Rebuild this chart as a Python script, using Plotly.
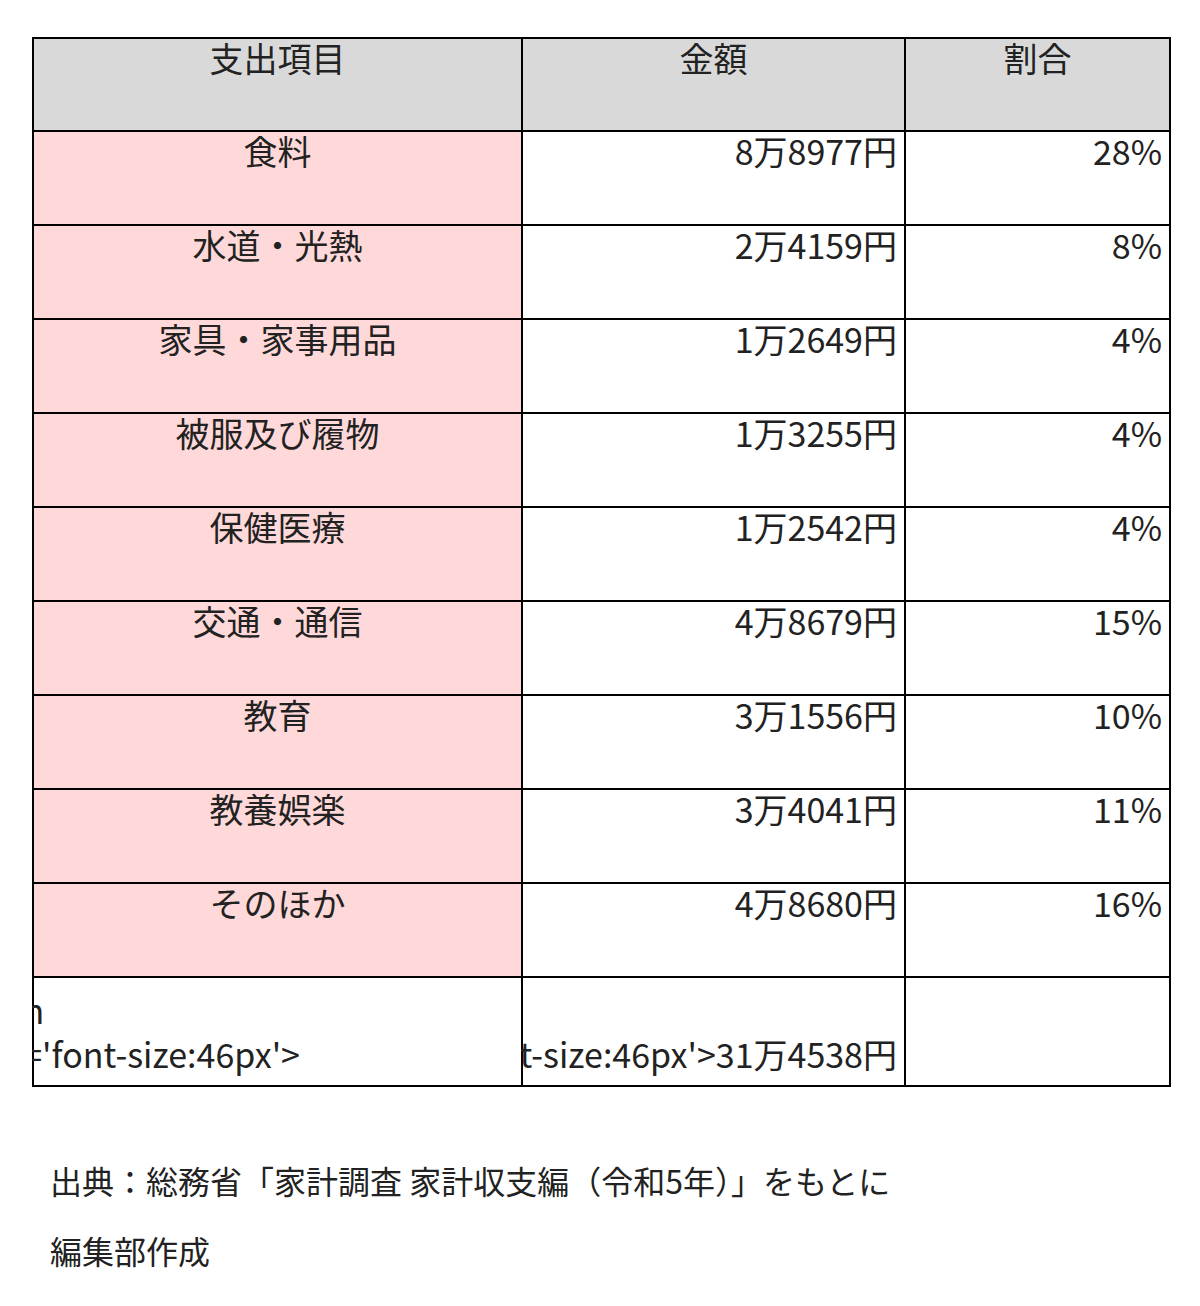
import plotly.graph_objects as go

headers = ["支出項目", "金額", "割合"]
items = ["食料", "水道・光熱", "家具・家事用品", "被服及び履物", "保健医療",
         "交通・通信", "教育", "教養娯楽", "そのほか"]
amounts = ["8万8977円", "2万4159円", "1万2649円", "1万3255円", "1万2542円",
           "4万8679円", "3万1556円", "3万4041円", "4万8680円"]
shares = ["28%", "8%", "4%", "4%", "4%", "15%", "10%", "11%", "16%"]
total_label = "合計"
total_amount = "31万4538円"
source_lines = ["出典：総務省「家計調査 家計収支編（令和5年）」をもとに", "編集部作成"]

W, H = 1200, 1306
n = len(items) + 1


def big(s):
    return f"<span style='font-size:46px'>{s}</span>"


# 合計 sits at the right edge of the centred first column: pad with ideographic spaces
col0 = items + [big("\u3000" * 7 + total_label)]
col1 = amounts + [big(total_amount)]
col2 = shares + [""]

pink = "#ffd9d9"
fig = go.Figure(go.Table(
    columnwidth=[489, 383, 265],
    domain=dict(x=[25 / W, 1162 / W], y=[0, 1 - 30 / H]),
    header=dict(
        values=headers, height=93, align="center",
        fill_color="#d9d9d9", line=dict(color="black", width=2),
        font=dict(size=34, color="#222", family="Noto Sans CJK JP"),
    ),
    cells=dict(
        values=[col0, col1, col2], height=94,
        align=["center", "right", "right"],
        fill_color=[[pink] * len(items) + ["white"], ["white"] * n, ["white"] * n],
        line=dict(color="black", width=2),
        font=dict(size=34, color="#222", family="Noto Sans CJK JP"),
    ),
))

for i, line in enumerate(source_lines):
    fig.add_annotation(
        x=40 / W, y=1 - (1172 + 70 * i) / H, xref="paper", yref="paper",
        xanchor="left", yanchor="middle", showarrow=False, text=line,
        font=dict(size=32, color="#222", family="Noto Sans CJK JP"),
    )

fig.update_layout(width=W, height=H, margin=dict(l=0, r=0, t=0, b=0),
                  paper_bgcolor="white")
fig.write_html("out.html")
